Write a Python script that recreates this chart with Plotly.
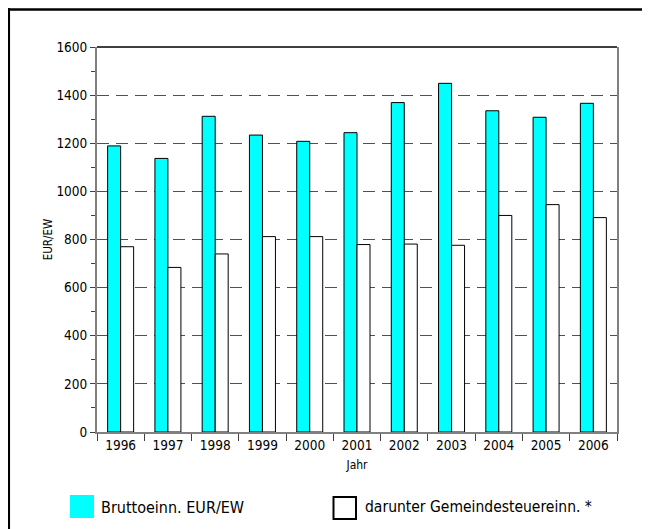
import plotly.graph_objects as go

years = ["1996", "1997", "1998", "1999", "2000", "2001", "2002", "2003", "2004", "2005", "2006"]
brutto = [1189, 1137, 1312, 1234, 1208, 1244, 1369, 1449, 1335, 1308, 1366]
gemeinde = [770, 684, 740, 812, 812, 779, 781, 776, 900, 945, 891]
series_names = ["Bruttoeinn. EUR/EW", "darunter Gemeindesteuereinn. *"]
y_ticks = [0, 200, 400, 600, 800, 1000, 1200, 1400, 1600]

FONT = "DejaVu Sans Condensed, Liberation Sans Narrow, Arial Narrow, sans-serif"

# page body has an 8px margin; the figure starts at (8, 8) in the window
OFF = 8
W, H = 650 - OFF, 529 - OFF
L, R, T, B = 97 - OFF, 650 - 617, 47 - OFF, 529 - 432

fig = go.Figure()
fig.add_trace(go.Bar(x=years, y=brutto, name=series_names[0],
                     marker=dict(color="#00FFFF", line=dict(color="black", width=1))))
fig.add_trace(go.Bar(x=years, y=gemeinde, name=series_names[1],
                     marker=dict(color="white", line=dict(color="black", width=1))))

fig.update_layout(
    width=W, height=H,
    margin=dict(l=L, r=R, t=T, b=B, pad=0),
    paper_bgcolor="white", plot_bgcolor="white",
    barmode="group", bargap=0.45, bargroupgap=0,
    showlegend=False,
    font=dict(family=FONT, color="black"),
)

fig.update_xaxes(
    type="category",
    showline=True, linecolor="#808080", linewidth=2,
    ticks="outside", tickson="boundaries", ticklen=7, tickcolor="#404040", tickwidth=1,
    tickfont=dict(size=13.5, family=FONT),
    showgrid=False,
    title=dict(text="Jahr", font=dict(size=12, family=FONT), standoff=8),
)
fig.update_yaxes(
    range=[0, 1600], tickvals=y_ticks,
    showline=True, linecolor="#808080", linewidth=2, mirror=True,
    ticks="outside", ticklen=5, tickcolor="#404040", tickwidth=1,
    minor=dict(dtick=100, ticks="outside", ticklen=4, tickcolor="#404040", showgrid=False),
    tickfont=dict(size=13.5, family=FONT),
    showgrid=True, gridcolor="#505050", gridwidth=1, griddash="12px,7px",
    zeroline=False,
    title=dict(text="EUR/EW", font=dict(size=11.5, family=FONT), standoff=1),
)

PW = 617 - 97
PH = 432 - 47


def px(x):
    return (x - 97) / PW


def py(y):
    return (432 - y) / PH


shapes = [
    dict(type="line", xref="paper", yref="paper", x0=0, x1=1, y0=1, y1=1,
         line=dict(color="black", width=1.5)),
    dict(type="line", xref="paper", yref="paper", x0=px(7), x1=px(660), y0=py(9.5), y1=py(9.5),
         line=dict(color="black", width=2.5)),
    dict(type="line", xref="paper", yref="paper", x0=px(8.8), x1=px(8.8), y0=py(8), y1=py(540),
         line=dict(color="black", width=2.5)),
    dict(type="rect", xref="paper", yref="paper", x0=px(70), x1=px(94), y0=py(495), y1=py(518),
         fillcolor="#00FFFF", line=dict(width=0)),
    dict(type="rect", xref="paper", yref="paper", x0=px(333.5), x1=px(356), y0=py(497), y1=py(519),
         fillcolor="white", line=dict(color="black", width=2)),
]
fig.update_layout(shapes=shapes)

fig.add_annotation(xref="paper", yref="paper", x=px(99), y=py(507), text=series_names[0],
                   showarrow=False, xanchor="left", yanchor="middle",
                   font=dict(size=16, family=FONT, color="black"))
fig.add_annotation(xref="paper", yref="paper", x=px(363), y=py(507), text=series_names[1],
                   showarrow=False, xanchor="left", yanchor="middle",
                   font=dict(size=15.5, family=FONT, color="black"))

fig.write_html("out.html")
